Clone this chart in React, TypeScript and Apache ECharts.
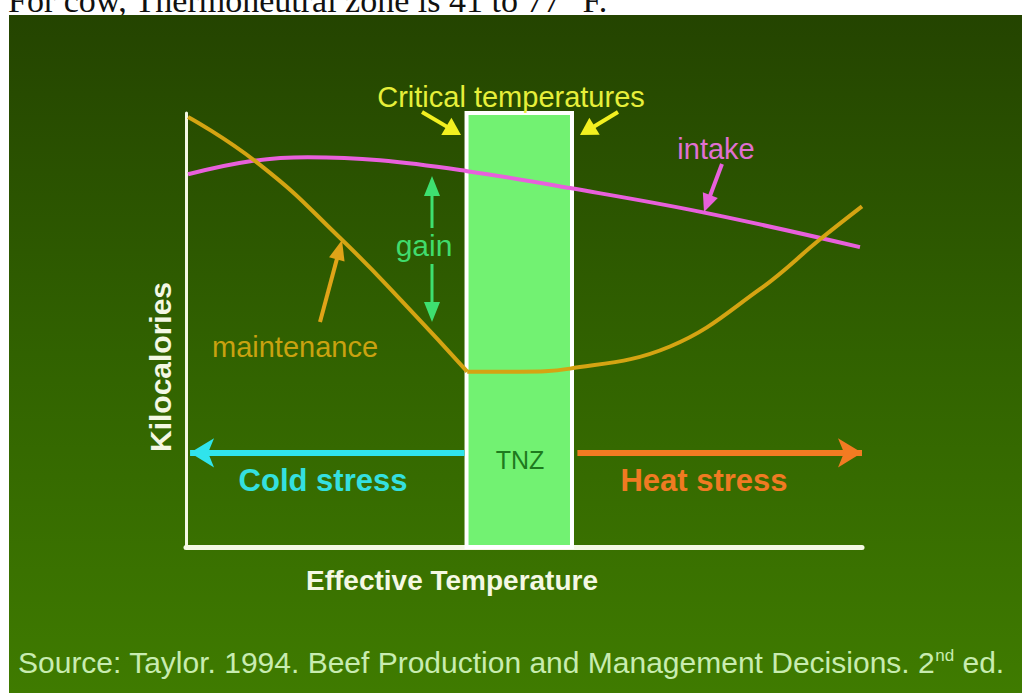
import React, { useEffect, useRef } from "react";
import * as echarts from "echarts";

// ---- data (x: relative effective temperature 0-100, y: relative kilocalories 0-100)
const intakeX = [0.3, 9.5, 18, 28.7, 41.6, 56.8, 76.5, 99.7];
const intakeY = [85.9, 88.9, 89.8, 89.1, 86.6, 82.7, 77.1, 69.1];

const maintColdX = [0.3, 11, 22.8, 32.7, 41.6];
const maintColdY = [99.1, 88.0, 71.2, 55.4, 40.4];
const maintWarmX = [41.6, 49.4, 56.8, 71.6, 84.9, 93.8, 100];
const maintWarmY = [40.4, 40.4, 41.1, 46.2, 59.4, 70.9, 78.5];

const tnzRange = [41.5, 57.1];
const stressLevel = 21.7;
const coldRange = [41.2, 0.6];
const heatRange = [57.9, 100];

const labels = {
  top: "For cow, Thermoneutral zone is 41 to 77 °F.",
  critical: "Critical temperatures",
  intake: "intake",
  gain: "gain",
  maintenance: "maintenance",
  yName: "Kilocalories",
  xName: "Effective Temperature",
  cold: "Cold stress",
  heat: "Heat stress",
  tnz: "TNZ",
};

const SANS = "'Liberation Sans', Arial, sans-serif";

function zip(xs: number[], ys: number[]) {
  return xs.map((x, i) => [x, ys[i]]);
}

function arrow(x1: number, y1: number, x2: number, y2: number, color: string, w: number, hl: number, hw: number) {
  const dx = x2 - x1, dy = y2 - y1;
  const L = Math.hypot(dx, dy);
  const ux = dx / L, uy = dy / L;
  const bx = x2 - ux * hl, by = y2 - uy * hl;
  const px = -uy, py = ux;
  return [
    { type: "line", z: 10, shape: { x1, y1, x2: bx + ux * 2, y2: by + uy * 2 }, style: { stroke: color, lineWidth: w } },
    {
      type: "polygon", z: 10,
      shape: { points: [[x2, y2], [bx + (px * hw) / 2, by + (py * hw) / 2], [bx - (px * hw) / 2, by - (py * hw) / 2]] },
      style: { fill: color },
    },
  ];
}

function txt(text: string, x: number, y: number, size: number, color: string, weight = "normal", extra: any = {}) {
  return {
    type: "text", z: 10, x, y,
    style: { text, fill: color, font: `${weight} ${size}px ${SANS}`, align: "center", verticalAlign: "middle", ...extra },
  };
}

export default function App() {
  const ref = useRef<HTMLDivElement>(null);
  useEffect(() => {
    const chart = echarts.init(ref.current!, null, { renderer: "svg" });
    const option: any = {
      animation: false,
      grid: { left: 186, right: 160, top: 113, bottom: 146 },
      xAxis: {
        type: "value", min: 0, max: 100,
        axisLine: { show: true, lineStyle: { color: "#f4f8e4", width: 5 } },
        axisTick: { show: false }, axisLabel: { show: false }, splitLine: { show: false },
      },
      yAxis: {
        type: "value", min: 0, max: 100,
        axisLine: { show: true, lineStyle: { color: "#f4f8e4", width: 3 } },
        axisTick: { show: false }, axisLabel: { show: false }, splitLine: { show: false },
      },
      graphic: [
        { type: "rect", z: -10, shape: { x: 9, y: 15, width: 1013, height: 678 },
          style: { fill: new echarts.graphic.LinearGradient(0, 0, 0, 1, [
            { offset: 0, color: "#244400" }, { offset: 0.5, color: "#316200" }, { offset: 1, color: "#3f7b00" }]) } },
        { type: "text", z: -20, x: 8, y: 17,
          style: { text: labels.top, fill: "#111", font: "normal 34px 'Liberation Serif', 'Times New Roman', serif", align: "left", verticalAlign: "bottom" } },
        txt(labels.critical, 511, 97, 29, "#e6ef3a"),
        ...arrow(422, 112, 461, 135, "#f2f020", 4, 17, 20),
        ...arrow(618, 112, 580, 135, "#f2f020", 4, 17, 20),
        txt(labels.intake, 716, 149, 29, "#e070d2"),
        ...arrow(722, 164, 704, 212, "#e860dc", 4, 18, 16),
        txt(labels.gain, 424, 245, 30, "#40dc6c"),
        ...arrow(432, 228, 432, 176, "#3ee070", 3, 20, 16),
        ...arrow(432, 264, 432, 322, "#3ee070", 3, 20, 16),
        txt(labels.maintenance, 295, 347, 29, "#c9a210"),
        ...arrow(320, 322, 342, 240, "#e0a418", 4, 20, 16),
        { type: "text", z: 10, x: 160, y: 367, rotation: Math.PI / 2,
          style: { text: labels.yName, fill: "#f4f8e4", font: `bold 30px ${SANS}`, align: "center", verticalAlign: "middle" } },
        txt(labels.xName, 452, 580, 28, "#f4f8e4", "bold"),
        txt(labels.cold, 323, 480, 31, "#34e0e0", "bold"),
        txt(labels.heat, 704, 480, 31, "#f07a22", "bold"),
        txt(labels.tnz, 520, 460, 25, "#1e7a1e"),
        {
          type: "text", z: 10, x: 18, y: 662,
          style: {
            text: "Source: Taylor. 1994. Beef Production and Management Decisions. 2{sup|nd} ed.",
            fill: "#c8ecb0", font: `normal 30px ${SANS}`, align: "left", verticalAlign: "middle",
            rich: { sup: { fontSize: 17, fill: "#c8ecb0", verticalAlign: "top", padding: [0, 0, 13, 0], fontFamily: SANS } },
          },
        },
      ],
      series: [
        {
          name: "TNZ", type: "line", data: [], z: 1,
          markArea: {
            silent: true,
            itemStyle: { color: "#72f272", borderColor: "#ffffff", borderWidth: 4 },
            data: [[{ xAxis: tnzRange[0], yAxis: 0 }, { xAxis: tnzRange[1], yAxis: 100 }]],
          },
        },
        {
          name: "stress", type: "line", data: [], z: 3,
          markLine: {
            silent: true, symbol: ["none", "arrow"], symbolSize: [22, 24], label: { show: false },
            data: [
              [{ coord: [coldRange[0], stressLevel], lineStyle: { color: "#30e4ec", width: 6, type: "solid" } },
               { coord: [coldRange[1], stressLevel] }],
              [{ coord: [heatRange[0], stressLevel], lineStyle: { color: "#f27b22", width: 6, type: "solid" } },
               { coord: [heatRange[1], stressLevel] }],
            ],
          },
        },
        {
          name: "intake", type: "line", smooth: 0.4, showSymbol: false, z: 4,
          lineStyle: { color: "#e860dc", width: 4 }, data: zip(intakeX, intakeY),
        },
        {
          name: "maintenance", type: "line", smooth: 0.5, showSymbol: false, z: 4,
          lineStyle: { color: "#d4a412", width: 4 }, data: zip(maintColdX, maintColdY),
        },
        {
          name: "maintenance", type: "line", smooth: 0.4, showSymbol: false, z: 4,
          lineStyle: { color: "#d4a412", width: 4 }, data: zip(maintWarmX, maintWarmY),
        },
      ],
    };
    chart.setOption(option);
    return () => chart.dispose();
  }, []);
  return (
    <div
      ref={ref}
      style={{ position: "fixed", left: 0, top: 0, width: 1022, height: 693, background: "#ffffff" }}
    />
  );
}
